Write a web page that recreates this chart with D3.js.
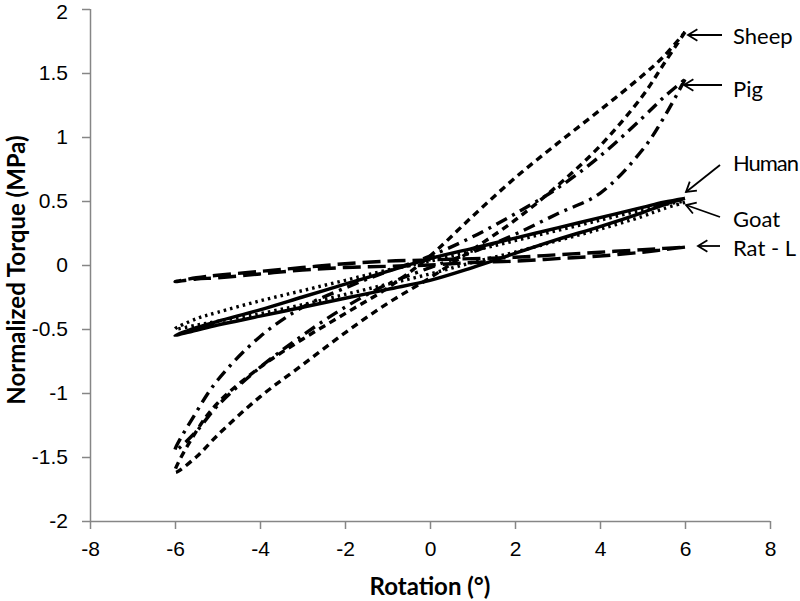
<!DOCTYPE html>
<html>
<head>
<meta charset="utf-8">
<script src="https://cdn.jsdelivr.net/npm/d3@7"></script>
<style>
  body { margin: 0; background: #fff; }
  svg { display: block; font-family: Lato, "Open Sans", sans-serif; }
  .axis path, .axis line { stroke: #868686; stroke-width: 1.5; }
  .axis text { font-size: 21px; fill: #000; }
  .title { font-size: 24px; font-weight: bold; }
  .label { font-size: 22px; }
</style>
</head>
<body>
<svg id="chart" width="800" height="601"></svg>
<script>
// rotation points, out (-6 -> 6) then back
var xOut = [-6, -5.5, -5, -4, -3, -2, -1, 0, 1, 2, 3, 4, 5, 5.5, 6];

// torque on the upper branch and lower branch (both listed -6 -> 6)
var sheepUpper = [-1.62, -1.3, -1.08, -0.8, -0.58, -0.38, -0.18, 0.07, 0.38, 0.68, 0.95, 1.21, 1.48, 1.63, 1.82];
var sheepLower = [-1.62, -1.5, -1.33, -1.03, -0.78, -0.53, -0.3, -0.1, 0.12, 0.35, 0.62, 0.93, 1.32, 1.57, 1.82];
var pigUpper = [-1.45, -1.15, -0.9, -0.56, -0.33, -0.18, -0.05, 0.07, 0.22, 0.4, 0.6, 0.85, 1.15, 1.31, 1.45];
var pigLower = [-1.45, -1.3, -1.1, -0.8, -0.55, -0.33, -0.15, -0.02, 0.1, 0.24, 0.4, 0.56, 0.9, 1.15, 1.45];
var humanUpper = [-0.54, -0.49, -0.44, -0.35, -0.25, -0.15, -0.05, 0.05, 0.13, 0.21, 0.29, 0.37, 0.45, 0.49, 0.52];
var humanLower = [-0.55, -0.51, -0.47, -0.4, -0.33, -0.26, -0.19, -0.12, -0.02, 0.09, 0.2, 0.3, 0.41, 0.47, 0.52];
var goatUpper = [-0.47, -0.42, -0.37, -0.28, -0.2, -0.12, -0.04, 0.03, 0.11, 0.19, 0.27, 0.35, 0.43, 0.47, 0.5];
var goatLower = [-0.5, -0.47, -0.44, -0.38, -0.31, -0.23, -0.15, -0.07, 0.02, 0.1, 0.19, 0.28, 0.38, 0.44, 0.49];
var ratUpper = [-0.12, -0.1, -0.08, -0.05, -0.02, 0.01, 0.03, 0.04, 0.05, 0.06, 0.08, 0.1, 0.12, 0.13, 0.14];
var ratLower = [-0.13, -0.11, -0.1, -0.07, -0.04, -0.02, -0.01, 0.0, 0.02, 0.03, 0.05, 0.07, 0.1, 0.12, 0.14];

var names = ["Sheep", "Pig", "Human", "Goat", "Rat - L"];
var xTicks = [-8, -6, -4, -2, 0, 2, 4, 6, 8];
var yTicks = [-2, -1.5, -1, -0.5, 0, 0.5, 1, 1.5, 2];

var series = [
  { name: "Sheep", upper: sheepUpper, lower: sheepLower, dash: "7,5" },
  { name: "Pig", upper: pigUpper, lower: pigLower, dash: "12,6,3,6" },
  { name: "Human", upper: humanUpper, lower: humanLower, dash: null },
  { name: "Goat", upper: goatUpper, lower: goatLower, dash: "2.5,4" },
  { name: "Rat - L", upper: ratUpper, lower: ratLower, dash: "18,7" }
];

// where the labels sit (pixels) and where their arrows point
var labelPos = [
  { y: 36, x1: 722, y1: 35, x2: 688, y2: 35 },
  { y: 89, x1: 722, y1: 85, x2: 684, y2: 85 },
  { y: 163, x1: 720, y1: 165, x2: 686, y2: 192 },
  { y: 219, x1: 720, y1: 217, x2: 686, y2: 205 },
  { y: 248, x1: 720, y1: 246, x2: 698, y2: 246 }
];

var svg = d3.select("#chart");

var x = d3.scaleLinear().domain([-8, 8]).range([90, 770]);
var y = d3.scaleLinear().domain([-2, 2]).range([521, 9]);

// axes
svg.append("g")
  .attr("class", "axis")
  .attr("transform", "translate(0,521)")
  .call(d3.axisBottom(x).tickValues(xTicks).tickSize(8).tickPadding(12).tickFormat(d3.format("")))
  .call(g => g.selectAll("text").text(d => d < 0 ? "-" + Math.abs(d) : d));

svg.append("g")
  .attr("class", "axis")
  .attr("transform", "translate(90,0)")
  .call(d3.axisLeft(y).tickValues(yTicks).tickSize(8).tickPadding(14))
  .call(g => g.selectAll("text").text(d => d < 0 ? "-" + Math.abs(d) : d))
  .call(g => g.selectAll(".tick text").filter(d => d == 2).attr("dy", "0.45em"));

svg.selectAll(".axis .domain").attr("d", function () {
  return d3.select(this.parentNode).attr("transform") == "translate(0,521)" ? "M90,0.5H770" : "M0.5,521V9";
});

// loops
var line = d3.line()
  .x(d => x(d[0]))
  .y(d => y(d[1]))
  .curve(d3.curveCatmullRom.alpha(0.5));

series.forEach(function (s) {
  var pts = xOut.map((v, i) => [v, s.upper[i]]);
  var back = xOut.map((v, i) => [v, s.lower[i]]).reverse();
  pts = back.concat(pts.slice(1));
  svg.append("path")
    .datum(pts)
    .attr("d", line)
    .attr("fill", "none")
    .attr("stroke", "#000")
    .attr("stroke-width", 3.4)
    .attr("stroke-dasharray", s.dash);
});

// labels with arrows
var lab = svg.append("g");
names.forEach(function (n, i) {
  var p = labelPos[i];
  lab.append("line")
    .attr("x1", p.x1).attr("y1", p.y1).attr("x2", p.x2).attr("y2", p.y2)
    .attr("stroke", "#000").attr("stroke-width", 1.8);
  var ang = Math.atan2(p.y1 - p.y2, p.x1 - p.x2);
  var h = 11, w = 0.55;
  lab.append("path")
    .attr("d", "M" + (p.x2 + h * Math.cos(ang - w)) + "," + (p.y2 + h * Math.sin(ang - w)) +
      "L" + p.x2 + "," + p.y2 +
      "L" + (p.x2 + h * Math.cos(ang + w)) + "," + (p.y2 + h * Math.sin(ang + w)))
    .attr("fill", "none").attr("stroke", "#000").attr("stroke-width", 1.8);
  lab.append("text")
    .attr("class", "label")
    .attr("x", 733)
    .attr("y", p.y)
    .attr("dy", "0.35em")
    .attr("textLength", n == "Human" ? 66 : null)
    .text(n);
});

// axis titles
svg.append("text")
  .attr("class", "title")
  .attr("x", 430)
  .attr("y", 595)
  .attr("text-anchor", "middle")
  .text("Rotation (°)");

svg.append("text")
  .attr("class", "title")
  .attr("transform", "translate(25,270) rotate(-90)")
  .attr("text-anchor", "middle")
  .text("Normalized Torque (MPa)");
</script>
</body>
</html>
